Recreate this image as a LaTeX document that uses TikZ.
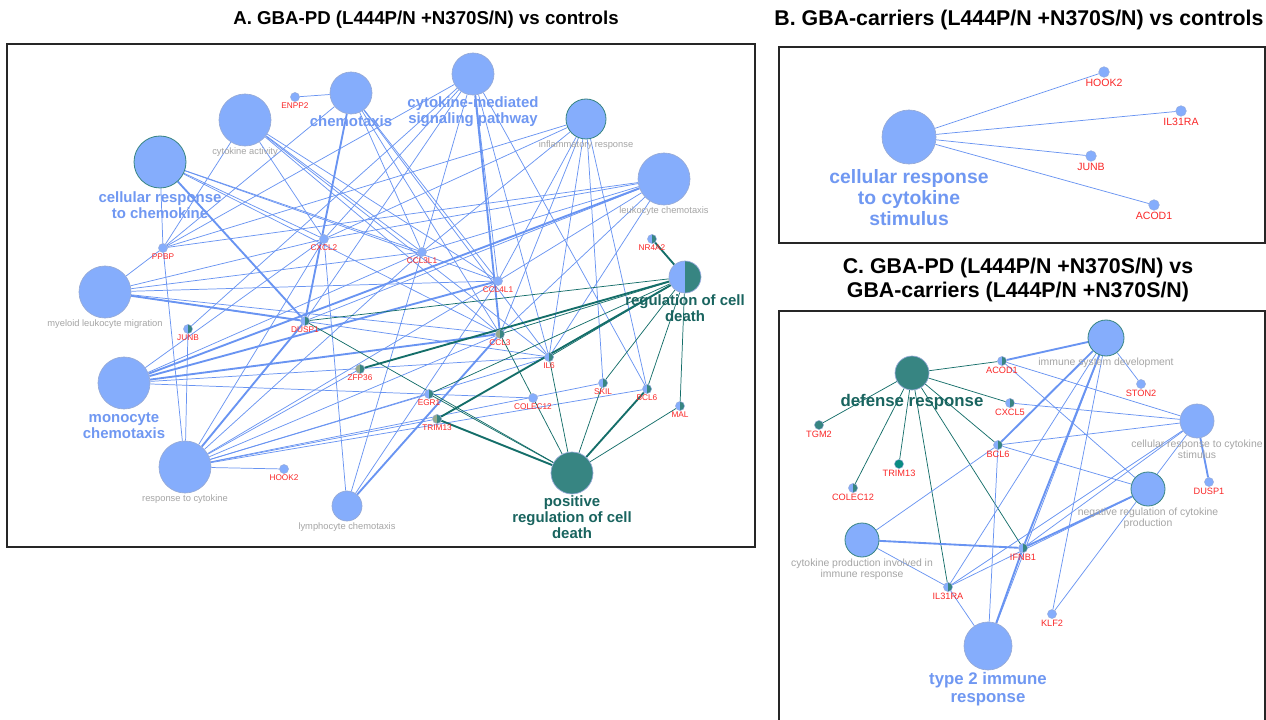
\documentclass[tikz,border=0pt]{standalone}
\usepackage{fontspec}
\setmainfont{Liberation Sans}
\usetikzlibrary{backgrounds}

\definecolor{nodeblue}{RGB}{133,173,252}
\definecolor{nodeline}{RGB}{150,170,215}
\definecolor{edgeblue}{RGB}{105,148,242}
\definecolor{nodeteal}{RGB}{55,133,130}
\definecolor{edgeteal}{RGB}{20,110,105}
\definecolor{brightteal}{RGB}{10,140,130}
\definecolor{mixgreen}{RGB}{150,170,140}
\definecolor{labteal}{RGB}{25,100,95}
\definecolor{labblue}{RGB}{112,152,242}
\definecolor{labgrey}{RGB}{165,165,165}
\definecolor{labred}{RGB}{250,40,40}

\begin{document}
\begin{tikzpicture}[x=0.75pt, y=-0.75pt,
    term/.style={circle, fill=nodeblue, draw=nodeline, line width=0.5pt, inner sep=0pt, minimum size=#1},
    gene/.style={circle, fill=nodeblue, draw=nodeline, line width=0.3pt, inner sep=0pt, minimum size=6.8pt},
    tealrim/.style={draw=nodeteal, line width=0.6pt},
    halfteal/.style={path picture={\fill[nodeteal] (path picture bounding box.north) rectangle (path picture bounding box.south east);}},
    mixgene/.style={fill=mixgreen, halfteal},
    blueline/.style={draw=edgeblue, line width=0.55pt},
    bluebold/.style={draw=edgeblue, line width=1.4pt},
    tealthin/.style={draw=edgeteal, line width=0.55pt},
    tealbold/.style={draw=edgeteal, line width=1.4pt},
    frame/.style={draw=black!85, line width=1pt},
    paneltitle/.style={font=\bfseries\fontsize{14}{17}\selectfont, align=center},
    bigtitle/.style={font=\bfseries\fontsize{16}{18}\selectfont, align=center},
    bigblue/.style={font=\bfseries\fontsize{11.2}{12}\selectfont, text=labblue, align=center, inner sep=1pt},
    bigteal/.style={font=\bfseries\fontsize{11.2}{12}\selectfont, text=labteal, align=center, inner sep=1pt},
    greylab/.style={font=\fontsize{7}{8}\selectfont, text=labgrey, align=center, inner sep=1pt},
    genelab/.style={font=\fontsize{6.2}{7}\selectfont, text=labred, inner sep=0.8pt},
    blueB/.style={font=\bfseries\fontsize{14.5}{15.7}\selectfont, text=labblue, align=center, inner sep=1pt, label distance=2.5pt},
    genelabB/.style={font=\fontsize{7.9}{9}\selectfont, text=labred, inner sep=0.8pt},
    blueC/.style={font=\bfseries\fontsize{12.6}{14}\selectfont, text=labblue, align=center, inner sep=1pt},
    tealC/.style={font=\bfseries\fontsize{12.6}{14}\selectfont, text=labteal, align=center, inner sep=1pt, label distance=2pt},
    greyC/.style={font=\fontsize{7.8}{8.4}\selectfont, text=labgrey, align=center, inner sep=1pt},
    genelabC/.style={font=\fontsize{6.9}{8}\selectfont, text=labred, inner sep=0.8pt}]
  \clip (0,0) rectangle (1266,720);

  % titles
  \node[paneltitle] (titleA) at (426,20) {A. GBA-PD (L444P/N +N370S/N) vs controls};
  \node[bigtitle] (titleB) at (1019,20) {B. GBA-carriers (L444P/N +N370S/N) vs controls};
  \node[bigtitle] (titleC) at (1018,280) {C. GBA-PD (L444P/N +N370S/N) vs\\GBA-carriers (L444P/N +N370S/N)};

  \draw[frame] (7,44) rectangle (755,547);
  \draw[frame] (779,47) rectangle (1265,243);
  \draw[frame] (779,311) rectangle (1265,730);

  % A: terms
  \node[term=39pt] (aCA) at (245,120) [label={[greylab]below:cytokine activity}] {};
  \node[term=31.5pt] (aCHE) at (351,93) [label={[bigblue]below:chemotaxis}] {};
  \node[term=31.5pt] (aCMSP) at (473,74) [label={[bigblue]below:cytokine-mediated\\signaling pathway}] {};
  \node[term=30pt, tealrim] (aINF) at (586,119) [label={[greylab]below:inflammatory response}] {};
  \node[term=39pt, tealrim] (aCRC) at (160,162) [label={[bigblue, label distance=1.5pt]below:cellular response\\to chemokine}] {};
  \node[term=39pt] (aLKC) at (664,179) [label={[greylab]below:leukocyte chemotaxis}] {};
  \node[term=39pt] (aMLM) at (105,292) [label={[greylab]below:myeloid leukocyte migration}] {};
  \node[term=39pt] (aMOC) at (124,383) [label={[bigblue, label distance=1.5pt]below:monocyte\\chemotaxis}] {};
  \node[term=39pt] (aRTC) at (185,467) [label={[greylab]below:response to cytokine}] {};
  \node[term=22.5pt] (aLYC) at (347,506) [label={[greylab]below:lymphocyte chemotaxis}] {};
  \node[term=24pt, halfteal] (aRCD) at (685,277) [label={[bigteal]below:regulation of cell\\death}] {};
  \node[term=31.5pt, fill=nodeteal] (aPRCD) at (572,473) [label={[bigteal]below:positive\\regulation of cell\\death}] {};

  % A: genes
  \node[gene] (aENPP2) at (295,97) [label={[genelab]below:ENPP2}] {};
  \node[gene] (aPPBP) at (163,248) [label={[genelab]below:PPBP}] {};
  \node[gene] (aCXCL2) at (324,239) [label={[genelab]below:CXCL2}] {};
  \node[gene] (aCCL3L1) at (422,252) [label={[genelab]below:CCL3L1}] {};
  \node[gene] (aCCL4L1) at (498,281) [label={[genelab]below:CCL4L1}] {};
  \node[gene, halfteal] (aNR4A2) at (652,239) [label={[genelab]below:NR4A2}] {};
  \node[gene, halfteal] (aJUNB) at (188,329) [label={[genelab]below:JUNB}] {};
  \node[gene, halfteal] (aDUSP1) at (305,321) [label={[genelab]below:DUSP1}] {};
  \node[gene, mixgene] (aZFP36) at (360,369) [label={[genelab]below:ZFP36}] {};
  \node[gene, mixgene] (aCCL3) at (500,334) [label={[genelab]below:CCL3}] {};
  \node[gene, halfteal] (aIL6) at (549,357) [label={[genelab]below:IL6}] {};
  \node[gene, halfteal] (aEGR1) at (429,394) [label={[genelab]below:EGR1}] {};
  \node[gene] (aCOLEC12) at (533,398) [label={[genelab]below:COLEC12}] {};
  \node[gene, halfteal] (aSKIL) at (603,383) [label={[genelab]below:SKIL}] {};
  \node[gene, halfteal] (aBCL6) at (647,389) [label={[genelab]below:BCL6}] {};
  \node[gene, halfteal] (aMAL) at (680,406) [label={[genelab]below:MAL}] {};
  \node[gene, mixgene] (aTRIM13) at (437,419) [label={[genelab]below:TRIM13}] {};
  \node[gene] (aHOOK2) at (284,469) [label={[genelab]below:HOOK2}] {};

  % B
  \node[term=40.5pt] (bCRCS) at (909,137) [label={[blueB]below:cellular response\\to cytokine\\stimulus}] {};
  \node[gene, minimum size=8pt] (bHOOK2) at (1104,72) [label={[genelabB]below:HOOK2}] {};
  \node[gene, minimum size=8pt] (bIL31RA) at (1181,111) [label={[genelabB]below:IL31RA}] {};
  \node[gene, minimum size=8pt] (bJUNB) at (1091,156) [label={[genelabB]below:JUNB}] {};
  \node[gene, minimum size=8pt] (bACOD1) at (1154,205) [label={[genelabB]below:ACOD1}] {};

  % C: terms
  \node[term=25.5pt, fill=nodeteal] (cDR) at (912,373) [label={[tealC]below:defense response}] {};
  \node[term=27pt, tealrim] (cIMD) at (1106,338) [label={[greyC]below:immune system development}] {};
  \node[term=25.5pt] (cCRCS) at (1197,421) [label={[greyC]below:cellular response to cytokine\\stimulus}] {};
  \node[term=25.5pt, tealrim] (cNRCP) at (1148,489) [label={[greyC]below:negative regulation of cytokine\\production}] {};
  \node[term=25.5pt, tealrim] (cCPIIR) at (862,540) [label={[greyC]below:cytokine production involved in\\immune response}] {};
  \node[term=36pt] (cT2IR) at (988,646) [label={[blueC]below:type 2 immune\\response}] {};

  % C: genes
  \node[gene, halfteal] (cACOD1) at (1002,361) [label={[genelabC]below:ACOD1}] {};
  \node[gene] (cSTON2) at (1141,384) [label={[genelabC]below:STON2}] {};
  \node[gene, halfteal] (cCXCL5) at (1010,403) [label={[genelabC]below:CXCL5}] {};
  \node[gene, fill=nodeteal] (cTGM2) at (819,425) [label={[genelabC]below:TGM2}] {};
  \node[gene, halfteal] (cBCL6) at (998,445) [label={[genelabC]below:BCL6}] {};
  \node[gene, fill=brightteal] (cTRIM13) at (899,464) [label={[genelabC]below:TRIM13}] {};
  \node[gene, halfteal] (cCOLEC12) at (853,488) [label={[genelabC]below:COLEC12}] {};
  \node[gene] (cDUSP1) at (1209,482) [label={[genelabC]below:DUSP1}] {};
  \node[gene, halfteal] (cIFNB1) at (1023,548) [label={[genelabC]below:IFNB1}] {};
  \node[gene, halfteal] (cIL31RA) at (948,587) [label={[genelabC]below:IL31RA}] {};
  \node[gene] (cKLF2) at (1052,614) [label={[genelabC]below:KLF2}] {};

  \begin{scope}[on background layer]
    \fill[white] (0,0) rectangle (1266,720);
    % A links
    \foreach \a/\b in {aCA/aPPBP, aCA/aCXCL2, aCA/aCCL3L1, aCA/aCCL4L1, aCA/aCCL3, aCA/aIL6,
        aCHE/aENPP2, aCHE/aPPBP, aCHE/aCCL3L1, aCHE/aCCL4L1, aCHE/aCCL3, aCHE/aIL6,
        aCMSP/aPPBP, aCMSP/aCXCL2, aCMSP/aCCL3L1, aCMSP/aCCL4L1, aCMSP/aIL6, aCMSP/aJUNB, aCMSP/aBCL6, aCMSP/aDUSP1,
        aINF/aPPBP, aINF/aCXCL2, aINF/aCCL3L1, aINF/aCCL4L1, aINF/aCCL3, aINF/aIL6, aINF/aBCL6, aINF/aSKIL,
        aCRC/aPPBP, aCRC/aCXCL2, aCRC/aCCL3L1, aCRC/aCCL4L1, aCRC/aCCL3,
        aLKC/aPPBP, aLKC/aCXCL2, aLKC/aCCL3L1, aLKC/aCCL4L1, aLKC/aCCL3, aLKC/aDUSP1, aLKC/aIL6,
        aMLM/aPPBP, aMLM/aCXCL2, aMLM/aCCL3L1, aMLM/aCCL4L1, aMLM/aCCL3, aMLM/aIL6,
        aMOC/aCXCL2, aMOC/aCCL3L1, aMOC/aIL6, aMOC/aCOLEC12,
        aRTC/aPPBP, aRTC/aJUNB, aRTC/aHOOK2, aRTC/aCXCL2, aRTC/aCCL3L1, aRTC/aCCL4L1, aRTC/aCCL3,
        aRTC/aIL6, aRTC/aEGR1, aRTC/aTRIM13, aRTC/aSKIL, aRTC/aBCL6, aRTC/aZFP36,
        aLYC/aCCL4L1, aLYC/aCCL3L1, aLYC/aCXCL2}
      \draw[blueline] (\a) -- (\b);
    \foreach \a/\b in {aCRC/aDUSP1, aCHE/aDUSP1, aRTC/aDUSP1, aMLM/aDUSP1, aMOC/aCCL4L1,
        aMOC/aCCL3, aMOC/aLKC, aLYC/aCCL3, aCMSP/aCCL3}
      \draw[bluebold] (\a) -- (\b);
    \foreach \a/\b in {aRCD/aDUSP1, aRCD/aCCL3, aRCD/aEGR1, aRCD/aIL6, aRCD/aSKIL, aRCD/aBCL6, aRCD/aMAL,
        aPRCD/aDUSP1, aPRCD/aEGR1, aPRCD/aCCL3, aPRCD/aIL6, aPRCD/aSKIL, aPRCD/aMAL}
      \draw[tealthin] (\a) -- (\b);
    \foreach \a/\b in {aRCD/aNR4A2, aRCD/aZFP36, aRCD/aTRIM13, aPRCD/aTRIM13, aPRCD/aBCL6}
      \draw[tealbold] (\a) -- (\b);
    % B links
    \foreach \b in {bHOOK2, bIL31RA, bJUNB, bACOD1}
      \draw[blueline] (bCRCS) -- (\b);
    % C links
    \foreach \b in {cACOD1, cCXCL5, cBCL6, cTGM2, cTRIM13, cCOLEC12, cIL31RA, cIFNB1}
      \draw[tealthin] (cDR) -- (\b);
    \foreach \a/\b in {cIMD/cSTON2, cIMD/cIL31RA, cIMD/cKLF2, cIMD/cT2IR,
        cCRCS/cACOD1, cCRCS/cCXCL5, cCRCS/cBCL6, cCRCS/cIFNB1, cCRCS/cIL31RA, cCRCS/cKLF2,
        cNRCP/cACOD1, cNRCP/cBCL6, cNRCP/cIL31RA, cCPIIR/cIL31RA, cCPIIR/cBCL6,
        cT2IR/cIL31RA, cT2IR/cBCL6}
      \draw[blueline] (\a) -- (\b);
    \foreach \a/\b in {cIMD/cACOD1, cIMD/cBCL6, cIMD/cIFNB1, cCRCS/cDUSP1, cNRCP/cIFNB1,
        cCPIIR/cIFNB1, cT2IR/cIFNB1}
      \draw[bluebold] (\a) -- (\b);
  \end{scope}
\end{tikzpicture}
\end{document}
